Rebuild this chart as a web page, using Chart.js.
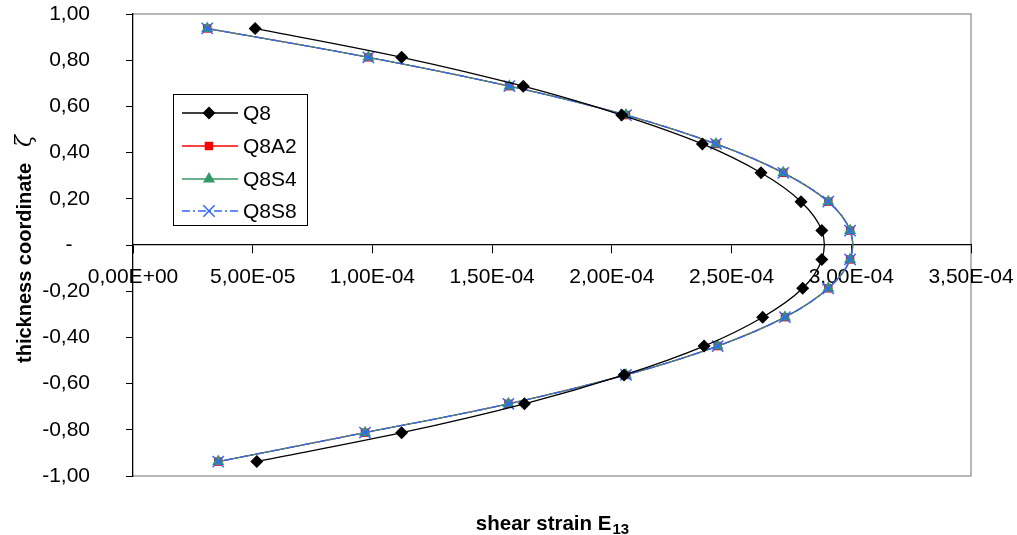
<!DOCTYPE html>
<html>
<head>
<meta charset="utf-8">
<script src="https://cdn.jsdelivr.net/npm/chart.js@4.4.1/dist/chart.umd.min.js"></script>
<style>
  html, body { margin: 0; padding: 0; background: #fff; }
</style>
</head>
<body>
<canvas id="chart" width="1017" height="535"></canvas>
<script>
// thickness coordinate of each layer (16 layers)
const zeta = [0.9375, 0.8125, 0.6875, 0.5625, 0.4375, 0.3125, 0.1875, 0.0625,
              -0.0625, -0.1875, -0.3125, -0.4375, -0.5625, -0.6875, -0.8125, -0.9375];

// shear strain E13 per element type
const q8   = [5.10e-5, 1.122e-4, 1.630e-4, 2.041e-4, 2.378e-4, 2.623e-4, 2.790e-4, 2.877e-4,
              2.877e-4, 2.797e-4, 2.630e-4, 2.385e-4, 2.051e-4, 1.635e-4, 1.122e-4, 5.17e-5];
const q8a2 = [3.10e-5, 9.83e-5, 1.572e-4, 2.059e-4, 2.435e-4, 2.716e-4, 2.904e-4, 2.995e-4,
              2.995e-4, 2.904e-4, 2.723e-4, 2.442e-4, 2.059e-4, 1.568e-4, 9.69e-5, 3.56e-5];
const q8s4 = [3.10e-5, 9.83e-5, 1.572e-4, 2.059e-4, 2.435e-4, 2.716e-4, 2.904e-4, 2.995e-4,
              2.995e-4, 2.904e-4, 2.723e-4, 2.442e-4, 2.059e-4, 1.568e-4, 9.69e-5, 3.56e-5];
const q8s8 = [3.10e-5, 9.83e-5, 1.572e-4, 2.059e-4, 2.435e-4, 2.716e-4, 2.904e-4, 2.995e-4,
              2.995e-4, 2.904e-4, 2.723e-4, 2.442e-4, 2.059e-4, 1.568e-4, 9.69e-5, 3.56e-5];

const seriesNames = ['Q8', 'Q8A2', 'Q8S4', 'Q8S8'];

const xTitle = 'shear strain E';
const xTitleSub = '13';
const yTitle = 'thickness coordinate';
const yTitleSymbol = 'ζ';

const FONT = '"Liberation Sans", Arial, sans-serif';

// Excel style "5,00E-05"
const sciLabel = v => {
  if (Math.abs(v) < 1e-12) return '0,00E+00';
  const parts = v.toExponential(2).split('e');
  const n = parseInt(parts[1], 10);
  return parts[0].replace('.', ',') + 'E' + (n < 0 ? '-' : '+') + String(Math.abs(n)).padStart(2, '0');
};
// zero shown as "-" (accounting format)
const yLabel = v => Math.abs(v) < 1e-9 ? '-   ' : v.toFixed(2).replace('.', ',');

const toPoints = vals => vals.map((x, i) => ({ x: x, y: zeta[i] }));

const styles = [
  { color: '#000000', pointStyle: 'rectRot', radius: 6.5, dash: [], order: 0 },
  { color: '#ff0000', pointStyle: 'rect', radius: 6, dash: [], order: 3 },
  { color: '#339966', pointStyle: 'triangle', radius: 7, dash: [], order: 2 },
  { color: '#3366ff', pointStyle: 'crossRot', radius: 8, dash: [8, 3, 2, 3], order: 1 }
];

const datasets = [q8, q8a2, q8s4, q8s8].map((vals, i) => {
  const s = styles[i];
  const isCross = s.pointStyle === 'crossRot';
  return {
    label: seriesNames[i],
    data: toPoints(vals),
    showLine: true,
    tension: 0.35,
    borderColor: s.color,
    borderWidth: 1.3,
    borderDash: s.dash,
    backgroundColor: s.color,
    pointStyle: s.pointStyle,
    pointRadius: s.radius,
    pointBackgroundColor: s.color,
    pointBorderColor: s.color,
    pointBorderWidth: isCross ? 1.5 : 0,
    order: s.order
  };
});

const extras = {
  id: 'extras',
  beforeDraw(chart) {
    const { ctx, chartArea: a } = chart;
    ctx.save();
    ctx.strokeStyle = '#a0a0a0';
    ctx.lineWidth = 1.5;
    ctx.beginPath();
    ctx.moveTo(a.left, a.top);
    ctx.lineTo(a.right, a.top);
    ctx.lineTo(a.right, a.bottom);
    ctx.lineTo(a.left, a.bottom);
    ctx.stroke();
    ctx.restore();
  },
  afterDraw(chart) {
    const { ctx, chartArea: a } = chart;
    ctx.save();
    ctx.fillStyle = '#000';
    ctx.textBaseline = 'alphabetic';

    // x axis title with subscript
    ctx.font = 'bold 20.5px ' + FONT;
    const w1 = ctx.measureText(xTitle).width;
    ctx.font = 'bold 15px ' + FONT;
    const w2 = ctx.measureText(xTitleSub).width;
    let tx = (a.left + a.right) / 2 - (w1 + w2) / 2;
    ctx.font = 'bold 20.5px ' + FONT;
    ctx.textAlign = 'left';
    ctx.fillText(xTitle, tx, 530);
    ctx.font = 'bold 15px ' + FONT;
    ctx.fillText(xTitleSub, tx + w1 + 1, 534);

    // y axis title, rotated
    ctx.translate(31, (a.top + a.bottom) / 2 + 4);
    ctx.rotate(-Math.PI / 2);
    ctx.font = 'bold 20px ' + FONT;
    const w3 = ctx.measureText(yTitle).width;
    ctx.font = 'italic 22px "DejaVu Serif", serif';
    const w4 = ctx.measureText(yTitleSymbol).width;
    const gap = 16;
    let ty = -(w3 + gap + w4) / 2;
    ctx.font = 'bold 20px ' + FONT;
    ctx.fillText(yTitle, ty, 0);
    ctx.font = 'italic 22px "DejaVu Serif", serif';
    ctx.fillText(yTitleSymbol, ty + w3 + gap, 0);
    ctx.setTransform(1, 0, 0, 1, 0, 0);

    // legend box inside the plot
    const box = { x: 173, y: 94, w: 134, h: 131 };
    ctx.fillStyle = '#fff';
    ctx.fillRect(box.x, box.y, box.w, box.h);
    ctx.strokeStyle = '#000';
    ctx.lineWidth = 1;
    ctx.strokeRect(box.x + 0.5, box.y + 0.5, box.w, box.h);
    const rowY = [113, 146, 179, 211];
    chart.data.datasets.forEach((ds, i) => {
      const y = rowY[i];
      ctx.save();
      ctx.strokeStyle = ds.borderColor;
      ctx.lineWidth = 1.3;
      ctx.setLineDash(ds.borderDash);
      ctx.beginPath();
      ctx.moveTo(182, y);
      ctx.lineTo(238, y);
      ctx.stroke();
      ctx.setLineDash([]);
      ctx.fillStyle = ds.pointBackgroundColor;
      ctx.strokeStyle = ds.pointBorderColor;
      ctx.lineWidth = ds.pointBorderWidth;
      Chart.helpers.drawPoint(ctx, {
        pointStyle: ds.pointStyle,
        radius: ds.pointRadius,
        rotation: 0,
        borderWidth: ds.pointBorderWidth
      }, 209, y);
      ctx.restore();
      ctx.fillStyle = '#000';
      ctx.font = '21px ' + FONT;
      ctx.textAlign = 'left';
      ctx.textBaseline = 'middle';
      ctx.fillText(ds.label, 243, y + 1);
    });
    ctx.restore();
  }
};

new Chart(document.getElementById('chart'), {
  type: 'scatter',
  data: { datasets: datasets },
  options: {
    responsive: false,
    animation: false,
    devicePixelRatio: 1,
    layout: { padding: { left: 0, right: 46, top: 14, bottom: 59 } },
    plugins: { legend: { display: false }, tooltip: { enabled: false } },
    scales: {
      x: {
        type: 'linear',
        min: 0,
        max: 3.5e-4,
        position: { y: 0 },
        grid: { drawOnChartArea: false, tickLength: 8, tickColor: '#000', tickWidth: 1 },
        border: { color: '#000', width: 1.3 },
        ticks: {
          stepSize: 5e-5,
          autoSkip: false,
          maxRotation: 0,
          padding: 12,
          color: '#000',
          font: { family: FONT, size: 21 },
          callback: v => sciLabel(v)
        },
        afterFit: scale => {
          scale.height = 0;
          scale.paddingLeft = 0;
          scale.paddingRight = 0;
        }
      },
      y: {
        type: 'linear',
        min: -1,
        max: 1,
        grid: { drawOnChartArea: false, tickLength: 7, tickColor: '#000', tickWidth: 1 },
        border: { color: '#000', width: 1.3 },
        ticks: {
          stepSize: 0.2,
          padding: 36,
          color: '#000',
          font: { family: FONT, size: 21 },
          callback: v => yLabel(v)
        },
        afterFit: scale => {
          scale.width = 133;
          scale.paddingTop = 0;
          scale.paddingBottom = 0;
        }
      }
    }
  },
  plugins: [extras]
});
</script>
</body>
</html>
